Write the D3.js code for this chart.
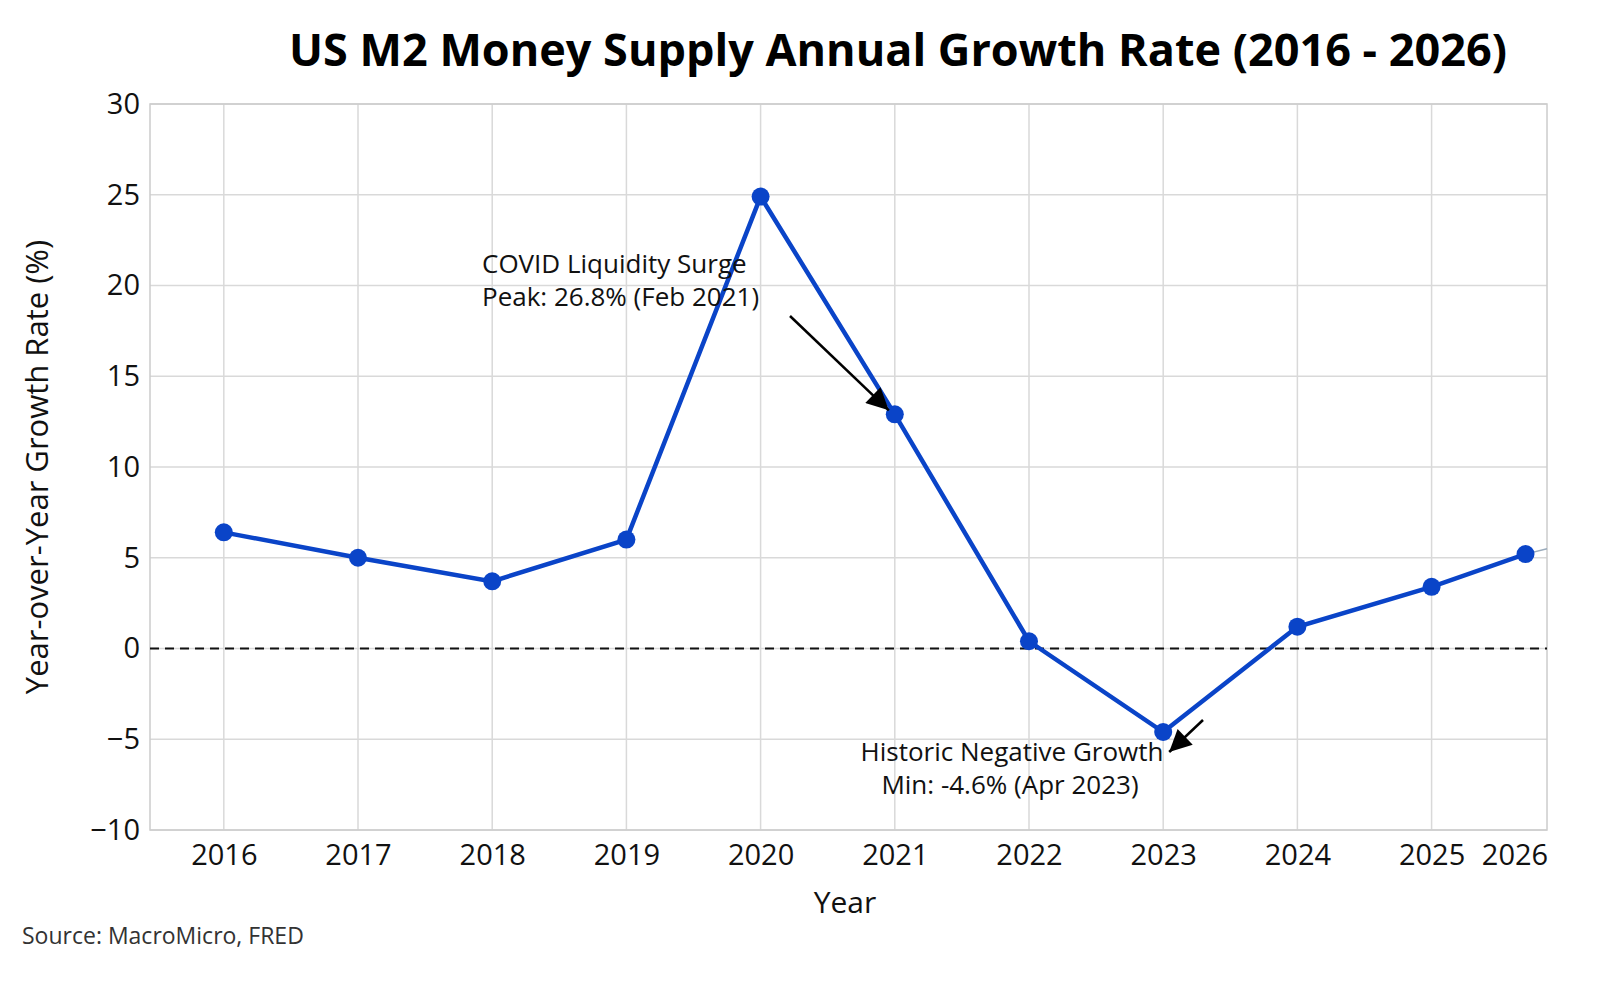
<!DOCTYPE html>
<html><head><meta charset="utf-8">
<script src="https://cdn.jsdelivr.net/npm/d3@7"></script>
<style>body{margin:0;background:#fff;font-family:"Open Sans",sans-serif}</style>
</head><body><svg id="c" width="1598" height="984"></svg>
<script>
const years=[2016,2017,2018,2019,2020,2021,2022,2023,2024,2025,2025.7];
const growth=[6.4,5.0,3.7,6.0,24.9,12.9,0.4,-4.6,1.2,3.4,5.2];
const xTicks=[2016,2017,2018,2019,2020,2021,2022,2023,2024,2025];
const yTicks=[-10,-5,0,5,10,15,20,25,30];
const tailY=5.5;
const svg=d3.select("#c");
const L=150,R=1547,T=104,B=830;
const x=d3.scaleLinear().domain([2015.45,2025.86]).range([L,R]);
const y=d3.scaleLinear().domain([-10,30]).range([B,T]);
svg.append("g").selectAll("line").data(xTicks).join("line")
 .attr("x1",d=>x(d)).attr("x2",d=>x(d)).attr("y1",T).attr("y2",B).attr("stroke","#d9d9d9").attr("stroke-width",1.5);
svg.append("g").selectAll("line").data(yTicks).join("line")
 .attr("x1",L).attr("x2",R).attr("y1",d=>y(d)).attr("y2",d=>y(d)).attr("stroke","#d9d9d9").attr("stroke-width",1.5);
svg.append("rect").attr("x",L).attr("y",T).attr("width",R-L).attr("height",B-T).attr("fill","none").attr("stroke","#ccc").attr("stroke-width",1.5);
const xa=svg.append("g").attr("transform",`translate(0,${B})`).call(d3.axisBottom(x).tickValues(xTicks).tickFormat(d3.format("d")).tickSize(0).tickPadding(14));
xa.select(".domain").remove();
xa.selectAll("text").attr("font-size",29).attr("font-family","Open Sans").attr("fill","#111");
xa.append("text").attr("x",1515).attr("y",14).attr("dy","0.71em").attr("text-anchor","middle").attr("font-size",29).attr("font-family","Open Sans").attr("fill","#111").text("2026");
const ya=svg.append("g").attr("transform",`translate(${L},0)`).call(d3.axisLeft(y).tickValues(yTicks).tickFormat(d=>d<0?"\u2212"+Math.abs(d):d).tickSize(0).tickPadding(10));
ya.select(".domain").remove();
ya.selectAll("text").attr("font-size",29).attr("font-family","Open Sans").attr("fill","#111");
svg.append("line").attr("x1",L).attr("x2",R).attr("y1",y(0)).attr("y2",y(0)).attr("stroke","#111").attr("stroke-width",2).attr("stroke-dasharray","9,6");
svg.append("line").attr("x1",x(years[years.length-1])).attr("y1",y(growth[growth.length-1])).attr("x2",R).attr("y2",y(tailY)).attr("stroke","#9ab").attr("stroke-width",1.5);
svg.append("path").datum(years.map((d,i)=>[d,growth[i]])).attr("d",d3.line().x(d=>x(d[0])).y(d=>y(d[1])))
 .attr("fill","none").attr("stroke","#0a44c8").attr("stroke-width",4.5);
svg.append("g").selectAll("circle").data(years.map((d,i)=>[d,growth[i]])).join("circle")
 .attr("cx",d=>x(d[0])).attr("cy",d=>y(d[1])).attr("r",9).attr("fill","#0a44c8");
const defs=svg.append("defs");
defs.append("marker").attr("id","ah").attr("viewBox","0 0 10 10").attr("refX",10).attr("refY",5).attr("markerWidth",9).attr("markerHeight",8).attr("markerUnits","userSpaceOnUse").attr("orient","auto")
 .attr("markerWidth",26).attr("markerHeight",22)
 .append("path").attr("d","M0,0L10,5L0,10z").attr("fill","#000");
svg.append("line").attr("x1",790).attr("y1",316).attr("x2",x(2021)-6).attr("y2",y(12.9)-4).attr("stroke","#000").attr("stroke-width",2.5).attr("marker-end","url(#ah)");
svg.append("line").attr("x1",1203).attr("y1",720).attr("x2",x(2023)+6).attr("y2",y(-4.6)+20).attr("stroke","#000").attr("stroke-width",2.5).attr("marker-end","url(#ah)");
const t1=svg.append("text").attr("font-size",26).attr("fill","#111");
t1.append("tspan").attr("x",482).attr("y",273).text("COVID Liquidity Surge");
t1.append("tspan").attr("x",482).attr("y",306).text("Peak: 26.8% (Feb 2021)");
const t2=svg.append("text").attr("font-size",26).attr("fill","#111").attr("text-anchor","middle");
t2.append("tspan").attr("x",1012).attr("y",761).text("Historic Negative Growth");
t2.append("tspan").attr("x",1010).attr("y",794).text("Min: -4.6% (Apr 2023)");
svg.append("text").attr("x",898).attr("y",66).attr("text-anchor","middle").attr("font-size",45).attr("font-weight","bold").attr("fill","#000").text("US M2 Money Supply Annual Growth Rate (2016 - 2026)");
svg.append("text").attr("x",845).attr("y",913).attr("text-anchor","middle").attr("font-size",30).attr("fill","#111").text("Year");
svg.append("text").attr("transform",`translate(48,${(T+B)/2}) rotate(-90)`).attr("text-anchor","middle").attr("font-size",31).attr("fill","#111").text("Year-over-Year Growth Rate (%)");
svg.append("text").attr("x",22).attr("y",944).attr("font-size",23).attr("fill","#333").text("Source: MacroMicro, FRED");
</script></body></html>
